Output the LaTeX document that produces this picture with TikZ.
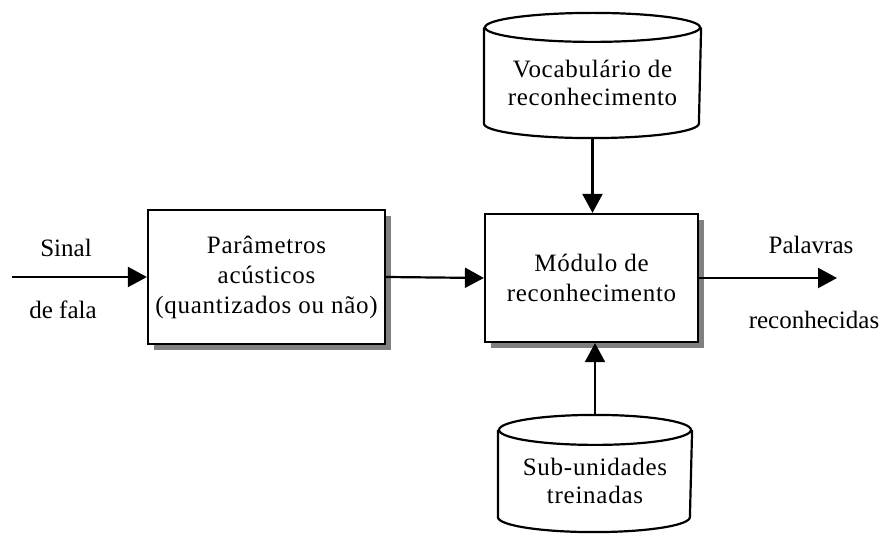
\documentclass[tikz,border=0pt]{standalone}
\usepackage{fontspec}
\setmainfont{Liberation Serif}
\usetikzlibrary{arrows.meta,shadows,calc}
\begin{document}
\begin{tikzpicture}[x=1pt,y=1pt,line width=2.2pt,>={Triangle[length=19pt,width=20pt]},
  font=\fontsize{25}{29}\selectfont,
  blk/.style={rectangle,draw,fill=white,align=center,font=\fontsize{25}{30}\selectfont\addfontfeature{LetterSpace=3},
    drop shadow={shadow xshift=6pt,shadow yshift=-6pt,fill=black!50,opacity=1}},
  store/.style={rectangle,align=center,inner sep=0pt,font=\fontsize{25}{28}\selectfont\addfontfeature{LetterSpace=3}}]
  \useasboundingbox (0,0) rectangle (886,533);
  % blocos
  \node[blk,minimum width=237pt,minimum height=134pt] (param) at (266.5,256) {Parâmetros\\acústicos\\(quantizados ou não)};
  \node[blk,minimum width=213pt,minimum height=128pt] (modulo) at (591.5,255) {Módulo de\\reconhecimento};
  % bases de dados
  \node[store,minimum width=215pt,minimum height=108.5pt] (vocab) at (592.5,450.25) {Vocabulário de\\reconhecimento};
  \draw (vocab.north) ellipse [x radius=107.5, y radius=14.5];
  \draw (vocab.north west) -- ($(vocab.south west)+(0,14.5)$)
    arc [start angle=180, end angle=360, x radius=107.5, y radius=14.5] -- (vocab.north east);
  \node[store,minimum width=192pt,minimum height=100pt] (subun) at (595,52) {Sub-unidades\\treinadas};
  \draw (subun.north) ellipse [x radius=96, y radius=15];
  \draw (subun.north west) -- ($(subun.south west)+(0,15)$)
    arc [start angle=180, end angle=360, x radius=96, y radius=15] -- (subun.north east);
  % entrada e saida
  \coordinate (sig) at (12,256);
  \coordinate (out) at (837,255);
  \node (sinal) at (66,285.5) {Sinal};
  \node (fala) at (63,223.5) {de fala};
  \node (palav) at (811,288.5) {Palavras};
  \node (recon) at (814,213.5) {reconhecidas};
  \draw[->] (sig) -- (param.west);
  \draw[->] (param.east) -- (modulo.west);
  \draw[->] (modulo.east) -- (out);
  \draw[->] (vocab.south) -- (vocab.south |- modulo.north);
  \draw[->] ($(subun.north)+(0,15)$) -- (subun.north |- modulo.south);
\end{tikzpicture}
\end{document}
